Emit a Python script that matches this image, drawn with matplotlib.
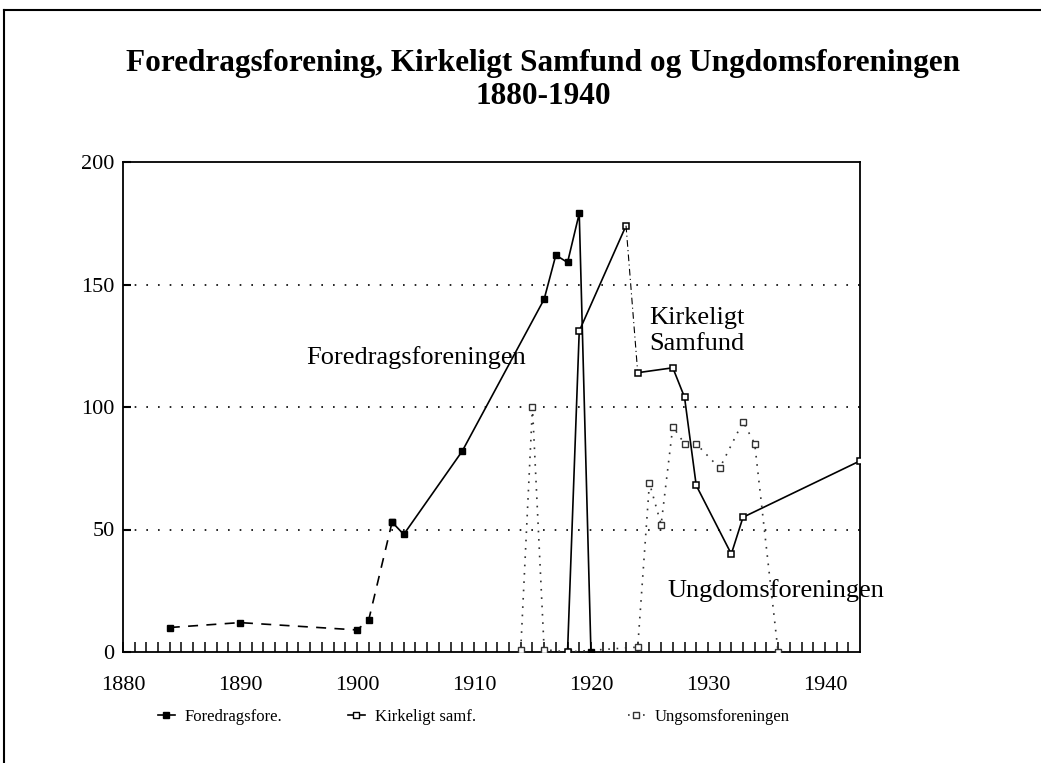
import matplotlib.pyplot as plt
from matplotlib.lines import Line2D

plt.rcParams['font.family'] = ['Liberation Serif', 'DejaVu Serif']

# Foredragsforeningen
fore_years = [1884, 1890, 1900, 1901, 1903, 1904, 1909, 1916, 1917, 1918, 1919, 1920]
fore_vals = [10, 12, 9, 13, 53, 48, 82, 144, 162, 159, 179, 0]
fore_dashed_until = 5  # first 5 points joined with a dashed line

# Kirkeligt Samfund
kirk_years = [1918, 1919, 1923, 1924, 1927, 1928, 1929, 1932, 1933, 1943]
kirk_vals = [0, 131, 174, 114, 116, 104, 68, 40, 55, 78]
kirk_gap = 2  # segment from index 2 to 3 drawn dash-dot

# Ungdomsforeningen
ung_years = [1914, 1915, 1916, 1918, 1924, 1925, 1926, 1927, 1928, 1929, 1931, 1933, 1934, 1936]
ung_vals = [1, 100, 1, 0, 2, 69, 52, 92, 85, 85, 75, 94, 85, 0]

W, H = 1041, 763
fig = plt.figure(figsize=(W / 100, H / 100), dpi=100)
ax = fig.add_axes([123 / W, 1 - 652 / H, (860 - 123) / W, (652 - 162) / H])

# gridlines
for g in [50, 100, 150]:
    ax.axhline(g, color='black', lw=1.2, ls=(0, (1, 6)), zorder=1)

# Ungdomsforeningen: dotted with open squares
ax.plot(ung_years, ung_vals, color='#333333', lw=1.2, ls=(0, (1, 4)),
        marker='s', ms=4.2, mfc='white', mec='#333333', mew=1.0, zorder=3)

# Foredragsforeningen
ax.plot(fore_years[:fore_dashed_until], fore_vals[:fore_dashed_until], color='black',
        lw=1.2, ls=(0, (6, 5)), marker='s', ms=4.5, mfc='black', mec='black', zorder=4)
ax.plot(fore_years[fore_dashed_until - 1:], fore_vals[fore_dashed_until - 1:], color='black',
        lw=1.2, ls='-', marker='s', ms=4.5, mfc='black', mec='black', zorder=4)

# Kirkeligt Samfund
ax.plot(kirk_years[:kirk_gap + 1], kirk_vals[:kirk_gap + 1], color='black', lw=1.2,
        marker='s', ms=5, mfc='white', mec='black', mew=1.1, zorder=4)
ax.plot(kirk_years[kirk_gap:kirk_gap + 2], kirk_vals[kirk_gap:kirk_gap + 2], color='black',
        lw=0.8, ls=(0, (6, 3, 1, 3)), zorder=4)
ax.plot(kirk_years[kirk_gap + 1:], kirk_vals[kirk_gap + 1:], color='black', lw=1.2,
        marker='s', ms=5, mfc='white', mec='black', mew=1.1, zorder=4)

ax.set_xlim(1880, 1943)
ax.set_ylim(0, 200)
ax.set_xticks(range(1880, 1941, 10))
ax.set_xticks(range(1881, 1943), minor=True)
ax.set_yticks([0, 50, 100, 150, 200])
ax.tick_params(axis='x', which='both', direction='in', length=7, width=1.1, top=False,
               labelsize=16, pad=17)
ax.tick_params(axis='y', which='major', direction='in', length=6, width=1.5, right=False,
               labelsize=16, pad=6)
for s in ax.spines.values():
    s.set_linewidth(1.3)

# series labels
ax.text(1895.7, 120, 'Foredragsforeningen', fontsize=19, va='center', ha='left')
ax.text(1925.0, 131, 'Kirkeligt\nSamfund', fontsize=19, va='center', ha='left',
        linespacing=1.25)
ax.text(1926.5, 25, 'Ungdomsforeningen', fontsize=19, va='center', ha='left')

# title
fig.text(0.522, 1 - 63 / H, 'Foredragsforening, Kirkeligt Samfund og Ungdomsforeningen',
         ha='center', va='center', fontsize=22.5, fontweight='bold')
fig.text(0.522, 1 - 97 / H, '1880-1940', ha='center', va='center',
         fontsize=22.5, fontweight='bold')

# legend entries
entries = [
    ('Foredragsfore.', dict(color='black', lw=1.2, marker='s', ms=4, mfc='black', mec='black'), 158),
    ('Kirkeligt samf.', dict(color='black', lw=1.2, marker='s', ms=4, mfc='white', mec='black'), 348),
    ('Ungsomsforeningen', dict(color='#333333', lw=1.2, ls=(0, (1, 2)), marker='s', ms=4,
                               mfc='white', mec='#333333'), 628),
]
for label, style, xpos in entries:
    h = Line2D([], [], **style)
    fig.legend([h], [label], loc='center left', bbox_to_anchor=(xpos / W, 1 - 717 / H),
               frameon=False, handlelength=1.0, handletextpad=0.6, fontsize=12,
               borderaxespad=0, borderpad=0)

# figure frame lines (top and left)
fig.add_artist(Line2D([4 / W, 1], [1 - 10 / H, 1 - 10 / H], color='black', lw=1.5))
fig.add_artist(Line2D([4 / W, 4 / W], [0, 1 - 10 / H], color='black', lw=1.5))

fig.savefig('out.png', dpi=100)
